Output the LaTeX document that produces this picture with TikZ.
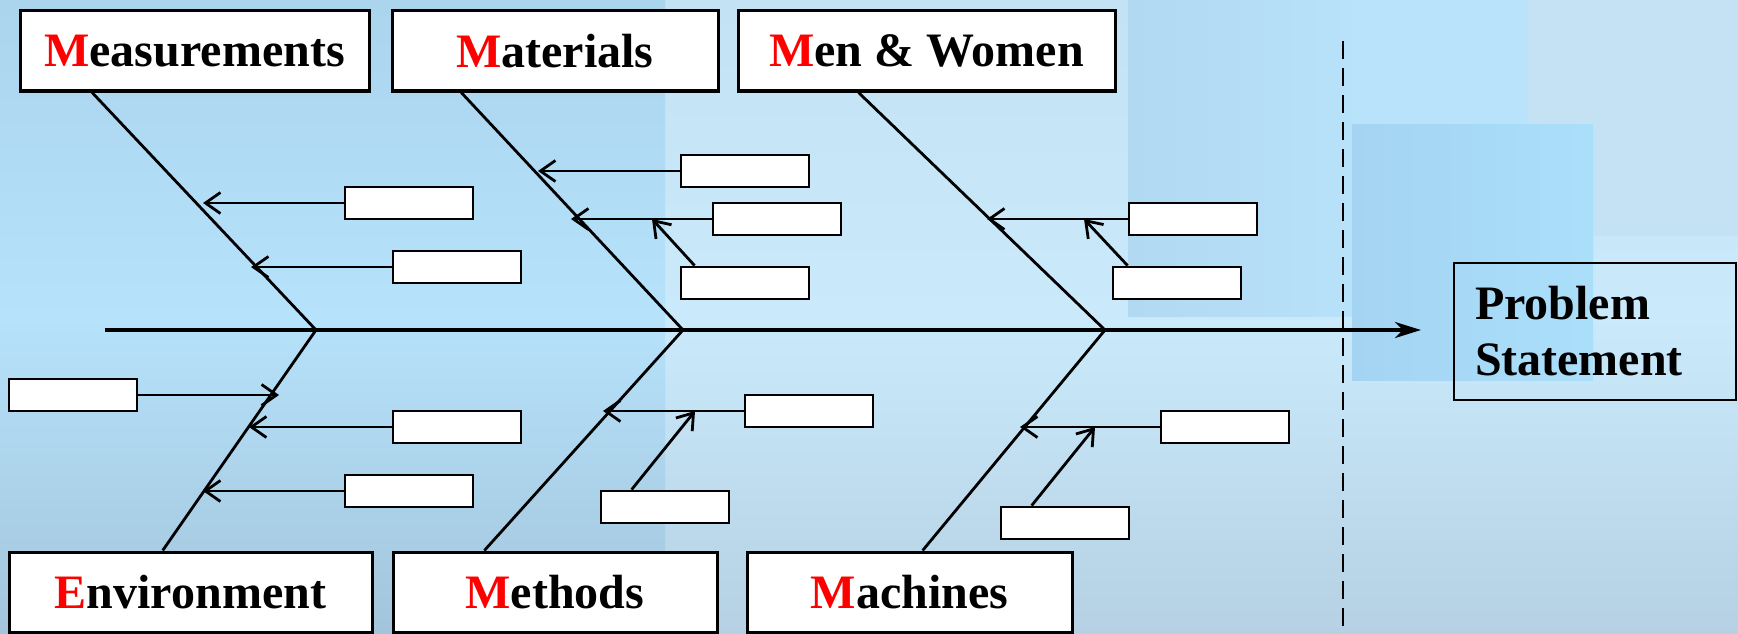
\documentclass[tikz,border=0pt]{standalone}
\usepackage{fontspec}
\setmainfont{Liberation Serif}
\usetikzlibrary{arrows.meta,calc}
\definecolor{capred}{HTML}{FF0000}
\definecolor{leftTop}{HTML}{ABD4ED}
\definecolor{leftMid}{HTML}{B6E2FB}
\definecolor{leftBot}{HTML}{A3C5DB}
\definecolor{baseTop}{HTML}{C3E2F4}
\definecolor{baseMid}{HTML}{CAEAFB}
\definecolor{baseBot}{HTML}{B5D1E3}
\definecolor{panelA}{HTML}{B1D9F1}
\definecolor{panelAr}{HTML}{B8E2FA}
\definecolor{panelB}{HTML}{A4D4F2}
\definecolor{panelBr}{HTML}{AADFFA}
\definecolor{panelC}{HTML}{C4E2F4}
\definecolor{panelD}{HTML}{B9E3FB}
\begin{document}
\begin{tikzpicture}[x=1pt,y=-1pt,
  category/.style={draw=black, line width=3pt, fill=white, inner sep=0pt,
    minimum height=80pt, font=\fontsize{48}{56}\selectfont\bfseries},
  cause/.style={draw=black, line width=2.8pt, fill=white, inner sep=0pt,
    minimum width=128pt, minimum height=32pt},
  bone/.style={line width=2.8pt},
  feed/.style={line width=2.8pt, -{Straight Barb[length=15pt,width=21pt]}},
  spine/.style={line width=3.2pt, -{Stealth[length=26pt,width=16pt,inset=8pt]}},
  divider/.style={line width=2.6pt, dash pattern=on 18pt off 9pt},
]
\useasboundingbox (0,0) rectangle (1738,634);

% backdrop panels
\fill[top color=baseTop, bottom color=baseBot, middle color=baseMid] (0,0) rectangle (1738,634);
\fill[top color=leftTop, bottom color=leftBot, middle color=leftMid] (0,0) rectangle (665,634);
\fill[left color=panelA, right color=panelAr] (1128,0) rectangle (1352,316);
\fill[panelD] (1352,0) rectangle (1528,124);
\fill[panelC] (1528,0) rectangle (1738,236);
\fill[left color=panelB, right color=panelBr] (1352,124) rectangle (1593,380);

% dashed divider
\coordinate (dtop) at (1343,41);
\coordinate (dbot) at (1343,634);
\draw[divider] (dtop) -- (dbot);

% category boxes
\node[category, minimum width=349pt] (meas) at (194.5,51) {\textcolor{capred}{M}easurements};
\node[category, minimum width=326pt] (mat)  at (555,51)   {\textcolor{capred}{M}aterials};
\node[category, minimum width=377pt] (men)  at (926.5,51) {\textcolor{capred}{M}en \& Women};
\node[category, minimum width=363pt] (env)  at (190.5,592) {\textcolor{capred}{E}nvironment};
\node[category, minimum width=324pt] (meth) at (555,592)  {\textcolor{capred}{M}ethods};
\node[category, minimum width=325pt] (mach) at (909.5,592) {\textcolor{capred}{M}achines};

% effect box
\node[draw=black, line width=2.8pt, minimum height=137pt, text width=240pt,
  inner xsep=21pt, inner ysep=0pt, align=left,
  font=\fontsize{48}{56}\selectfont\bfseries] (prob) at (1595,331.5) {Problem\\Statement};

% spine
\coordinate (tail) at (105,330);
\coordinate (head) at (1421,330);
\coordinate (j1) at (316,330);
\coordinate (j2) at (683,330);
\coordinate (j3) at (1105,330);
\draw[spine] (tail) -- (head);

% main bones
\draw[bone] ($(meas.south west)!0.209!(meas.south east)$) -- (j1);
\draw[bone] ($(mat.south west)!0.215!(mat.south east)$) -- (j2);
\draw[bone] ($(men.south west)!0.321!(men.south east)$) -- (j3);
\draw[bone] ($(env.north west)!0.424!(env.north east)$) -- (j1);
\draw[bone] ($(meth.north west)!0.284!(meth.north east)$) -- (j2);
\draw[bone] ($(mach.north west)!0.54!(mach.north east)$) -- (j3);

% cause boxes
\node[cause] (s1)  at (409,203) {};
\node[cause] (s2)  at (457,267) {};
\node[cause] (s3)  at (745,171) {};
\node[cause] (s4)  at (777,219) {};
\node[cause] (s5)  at (745,283) {};
\node[cause] (s6)  at (1193,219) {};
\node[cause] (s7)  at (1177,283) {};
\node[cause] (s8)  at (73,395) {};
\node[cause] (s9)  at (457,427) {};
\node[cause] (s10) at (409,491) {};
\node[cause] (s11) at (809,411) {};
\node[cause] (s12) at (665,507) {};
\node[cause] (s13) at (1225,427) {};
\node[cause] (s14) at (1065,523) {};

% arrow ends on the bones
\coordinate (t1)  at (203,203);
\coordinate (t2)  at (251,267);
\coordinate (t3)  at (538,171);
\coordinate (t4)  at (571,219);
\coordinate (t5)  at (652,219);
\coordinate (t6)  at (987,219);
\coordinate (t7)  at (1084,219);
\coordinate (t8)  at (279,395);
\coordinate (t9)  at (249,427);
\coordinate (t10) at (203,491);
\coordinate (t11) at (603,411);
\coordinate (t12) at (695,411);
\coordinate (t13) at (1020,427);
\coordinate (t14) at (1095,427);

\draw[feed] (s1.west) -- (t1);
\draw[feed] (s2.west) -- (t2);
\draw[feed] (s3.west) -- (t3);
\draw[feed] (s4.west) -- (t4);
\draw[feed] ($(s5.north west)+(15,0)$) -- (t5);
\draw[feed] (s6.west) -- (t6);
\draw[feed] ($(s7.north west)+(16,0)$) -- (t7);
\draw[feed] (s8.east) -- (t8);
\draw[feed] (s9.west) -- (t9);
\draw[feed] (s10.west) -- (t10);
\draw[feed] (s11.west) -- (t11);
\draw[feed] ($(s12.north west)+(32,0)$) -- (t12);
\draw[feed] (s13.west) -- (t13);
\draw[feed] ($(s14.north west)+(32,0)$) -- (t14);
\end{tikzpicture}
\end{document}
